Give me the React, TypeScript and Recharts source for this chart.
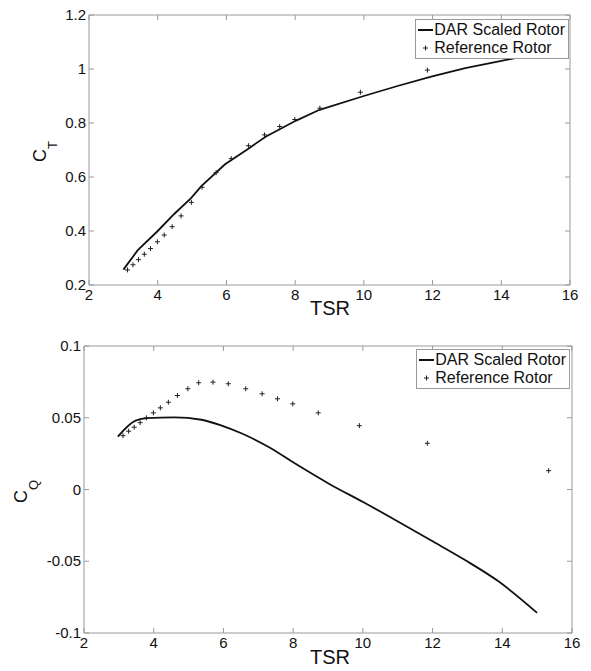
import { ComposedChart, Legend, Line, ReferenceArea, Scatter, XAxis, YAxis } from "recharts";

const tsrTicks = [2, 4, 6, 8, 10, 12, 14, 16];
const ctTicks = [0.2, 0.4, 0.6, 0.8, 1, 1.2];
const cqTicks = [-0.1, -0.05, 0, 0.05, 0.1];

// reference rotor samples (same TSR for both plots; the last CT point sits under the legend)
const tsrRef = [3.12, 3.28, 3.44, 3.61, 3.79, 3.99, 4.19, 4.42, 4.68, 4.98, 5.29, 5.7, 6.14, 6.64, 7.11, 7.55, 7.99, 8.72, 9.9, 11.85, 15.33];
const ctRef = [0.256, 0.275, 0.294, 0.314, 0.335, 0.36, 0.385, 0.416, 0.456, 0.506, 0.562, 0.616, 0.668, 0.716, 0.756, 0.787, 0.813, 0.855, 0.914, 0.996];
const cqRef = [0.0375, 0.0406, 0.0434, 0.0466, 0.0499, 0.0534, 0.0569, 0.0608, 0.0655, 0.0702, 0.0744, 0.0748, 0.0737, 0.0702, 0.0667, 0.0632, 0.0597, 0.0534, 0.0445, 0.0322, 0.0131];

// DAR scaled rotor curves
const tsrCtLine = [3.0, 3.42, 4.0, 4.48, 4.97, 5.27, 5.96, 6.65, 7.14, 8.03, 8.71, 10.0, 10.98, 11.96, 12.95, 13.93, 14.72, 15.0];
const ctLine = [0.257, 0.329, 0.4, 0.463, 0.522, 0.566, 0.647, 0.706, 0.749, 0.809, 0.849, 0.9, 0.937, 0.972, 1.003, 1.028, 1.049, 1.055];
const tsrCqLine = [2.97, 3.48, 3.82, 4.59, 5.37, 5.95, 6.53, 7.31, 8.08, 9.05, 10.02, 10.98, 11.95, 12.92, 13.89, 15.0];
const cqLine = [0.0368, 0.048, 0.0497, 0.0503, 0.0486, 0.0445, 0.039, 0.0294, 0.0177, 0.0037, -0.0089, -0.0219, -0.0354, -0.049, -0.064, -0.086];

const FONT = "'Liberation Sans', Arial, sans-serif";
const FRAME = "#9a9a9a";
const W = 591;

type Box = { left: number; top: number; right: number; bottom: number };

const topBox: Box = { left: 89, top: 15, right: 570, bottom: 285 };
const botBox: Box = { left: 84, top: 21, right: 572, bottom: 308 };

function makeXTick(box: Box) {
  return (props: any) => {
    const { x, y, payload } = props;
    return (
      <g>
        <line x1={x} y1={y} x2={x} y2={y - 5} stroke={FRAME} />
        <line x1={x} y1={box.top} x2={x} y2={box.top + 5} stroke={FRAME} />
        <text x={x} y={y + 15} textAnchor="middle" fontSize={15} fontFamily={FONT} fill="#111">
          {payload.value}
        </text>
      </g>
    );
  };
}

function makeYTick(box: Box) {
  return (props: any) => {
    const { x, y, payload } = props;
    return (
      <g>
        <line x1={x} y1={y} x2={x + 5} y2={y} stroke={FRAME} />
        <line x1={box.right - 5} y1={y} x2={box.right} y2={y} stroke={FRAME} />
        <text x={x - 3} y={y + 5} textAnchor="end" fontSize={15} fontFamily={FONT} fill="#111">
          {payload.value}
        </text>
      </g>
    );
  };
}

const Plus = (props: any) => {
  const { cx, cy } = props;
  return <path d={`M${cx - 2.5},${cy}H${cx + 2.5}M${cx},${cy - 2.5}V${cy + 2.5}`} stroke="#222" strokeWidth={1} fill="none" />;
};

function LegendBox() {
  return (
    <div
      style={{
        border: `1px solid ${FRAME}`,
        background: "#fff",
        padding: "1px 3px 1px 2px",
        fontFamily: FONT,
        fontSize: 16,
        lineHeight: "18px",
        color: "#111",
      }}
    >
      <div style={{ display: "flex", alignItems: "center" }}>
        <svg width={16} height={10}>
          <line x1={0} y1={5} x2={15} y2={5} stroke="#111" strokeWidth={2} />
        </svg>
        <span>DAR Scaled Rotor</span>
      </div>
      <div style={{ display: "flex", alignItems: "center" }}>
        <svg width={16} height={10}>
          <path d="M5,5H10M7.5,2.5V7.5" stroke="#222" strokeWidth={1} />
        </svg>
        <span>Reference Rotor</span>
      </div>
    </div>
  );
}

function AxisTitle({ x, y }: { x: number; y: number }) {
  return (
    <text x={x} y={y} textAnchor="middle" fontSize={20} fontFamily={FONT} fill="#111">
      TSR
    </text>
  );
}

function CoefLabel({ x, y, sub }: { x: number; y: number; sub: string }) {
  return (
    <text transform={`translate(${x},${y}) rotate(-90)`} fontSize={18} fontFamily={FONT} fill="#111">
      C<tspan dy={11} fontSize={13}>{sub}</tspan>
    </text>
  );
}

export default function App() {
  const ctLineData = tsrCtLine.map((tsr, i) => ({ tsr, v: ctLine[i] }));
  const ctRefData = ctRef.map((v, i) => ({ tsr: tsrRef[i], v }));
  const cqLineData = tsrCqLine.map((tsr, i) => ({ tsr, v: cqLine[i] }));
  const cqRefData = cqRef.map((v, i) => ({ tsr: tsrRef[i], v }));

  return (
    <div style={{ position: "absolute", left: 0, top: 0, width: W, height: 671, background: "#fff" }}>
      <div style={{ position: "absolute", left: 0, top: 0 }}>
        <ComposedChart
          width={W}
          height={325}
          margin={{ top: topBox.top, left: topBox.left - 1, right: W - topBox.right, bottom: 325 - topBox.bottom - 1 }}
        >
          <XAxis
            type="number"
            dataKey="tsr"
            domain={[2, 16]}
            ticks={tsrTicks}
            allowDataOverflow
            height={1}
            tickSize={0}
            tickMargin={0}
            axisLine={false}
            tickLine={false}
            tick={makeXTick(topBox)}
            label={{ content: () => <AxisTitle x={330} y={315} /> }}
          />
          <YAxis
            type="number"
            dataKey="v"
            domain={[0.2, 1.2]}
            ticks={ctTicks}
            allowDataOverflow
            width={1}
            tickSize={0}
            tickMargin={0}
            axisLine={false}
            tickLine={false}
            tick={makeYTick(topBox)}
            label={{ content: () => <CoefLabel x={46} y={162} sub="T" /> }}
          />
          <ReferenceArea x1={2} x2={16} y1={0.2} y2={1.2} fill="none" stroke={FRAME} strokeWidth={1} />
          <Scatter data={ctRefData} dataKey="v" shape={Plus} isAnimationActive={false} name="Reference Rotor" />
          <Line
            data={ctLineData}
            dataKey="v"
            type="linear"
            stroke="#111"
            strokeWidth={1.8}
            dot={false}
            isAnimationActive={false}
            name="DAR Scaled Rotor"
          />
          <Legend
            layout="vertical"
            align="center"
            verticalAlign="middle"
            content={() => <LegendBox />}
            wrapperStyle={{ top: 19, left: "auto", right: 22, width: "auto" }}
          />
        </ComposedChart>
      </div>
      <div style={{ position: "absolute", left: 0, top: 325 }}>
        <ComposedChart
          width={W}
          height={346}
          margin={{ top: botBox.top, left: botBox.left - 1, right: W - botBox.right, bottom: 346 - botBox.bottom - 1 }}
        >
          <XAxis
            type="number"
            dataKey="tsr"
            domain={[2, 16]}
            ticks={tsrTicks}
            allowDataOverflow
            height={1}
            tickSize={0}
            tickMargin={0}
            axisLine={false}
            tickLine={false}
            tick={makeXTick(botBox)}
            label={{ content: () => <AxisTitle x={330} y={339} /> }}
          />
          <YAxis
            type="number"
            dataKey="v"
            domain={[-0.1, 0.1]}
            ticks={cqTicks}
            allowDataOverflow
            width={1}
            tickSize={0}
            tickMargin={0}
            axisLine={false}
            tickLine={false}
            tick={makeYTick(botBox)}
            label={{ content: () => <CoefLabel x={27} y={178} sub="Q" /> }}
          />
          <ReferenceArea x1={2} x2={16} y1={-0.1} y2={0.1} fill="none" stroke={FRAME} strokeWidth={1} />
          <Scatter data={cqRefData} dataKey="v" shape={Plus} isAnimationActive={false} name="Reference Rotor" />
          <Line
            data={cqLineData}
            dataKey="v"
            type="monotone"
            stroke="#111"
            strokeWidth={1.8}
            dot={false}
            isAnimationActive={false}
            name="DAR Scaled Rotor"
          />
          <Legend
            layout="vertical"
            align="center"
            verticalAlign="middle"
            content={() => <LegendBox />}
            wrapperStyle={{ top: 24, left: "auto", right: 21, width: "auto" }}
          />
        </ComposedChart>
      </div>
    </div>
  );
}
